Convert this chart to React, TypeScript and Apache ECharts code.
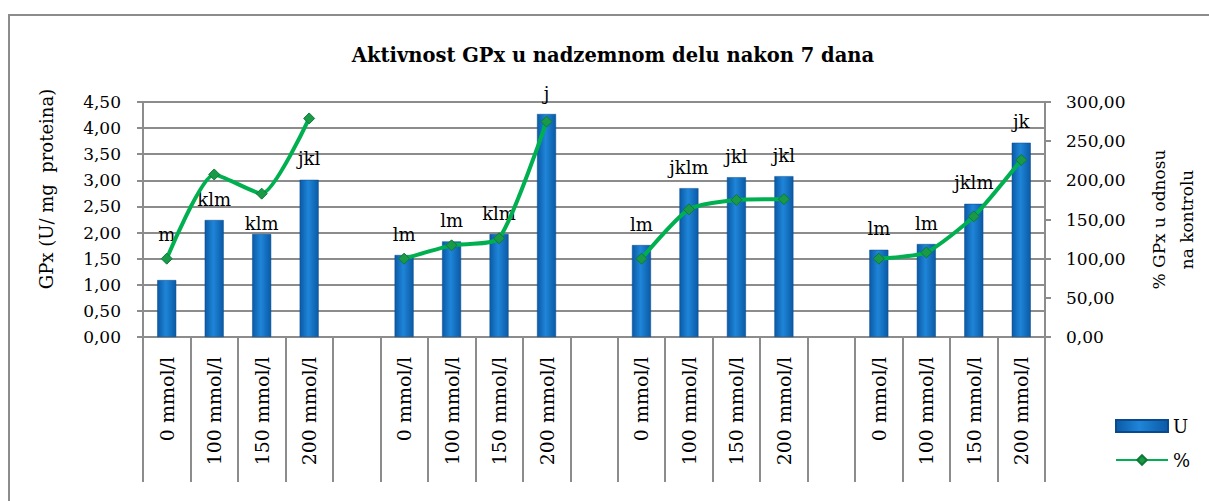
import React, { useEffect, useRef } from "react";
import * as echarts from "echarts";

const categories = [
  "0 mmol/l", "100 mmol/l", "150 mmol/l", "200 mmol/l", "",
  "0 mmol/l", "100 mmol/l", "150 mmol/l", "200 mmol/l", "",
  "0 mmol/l", "100 mmol/l", "150 mmol/l", "200 mmol/l", "",
  "0 mmol/l", "100 mmol/l", "150 mmol/l", "200 mmol/l",
];
const valuesU: (number | null)[] = [
  1.09, 2.24, 1.97, 3.01, null,
  1.57, 1.83, 1.97, 4.27, null,
  1.76, 2.85, 3.06, 3.08, null,
  1.67, 1.78, 2.55, 3.72,
];
const valuesPct: (number | null)[] = [
  100, 207.5, 183, 279, null,
  100, 117, 126, 275, null,
  100, 163, 175, 176, null,
  100, 108, 154, 226,
];
const letters = [
  "m", "klm", "klm", "jkl", "",
  "lm", "lm", "klm", "j", "",
  "lm", "jklm", "jkl", "jkl", "",
  "lm", "lm", "jklm", "jk",
];
const leftTicks = { min: 0, max: 4.5, interval: 0.5 };
const rightTicks = { min: 0, max: 300, interval: 50 };

const FONT = "DejaVu Serif";
const fmt = (v: number) => v.toFixed(2).replace(".", ",");

export default function App() {
  const ref = useRef<HTMLDivElement>(null);
  useEffect(() => {
    document.body.style.margin = "0";
    const chart = echarts.init(ref.current!, null, { renderer: "svg" });
    const labelOffsets: Record<number, number> = { 0: -25, 2: 10 };
    const barGrad = new echarts.graphic.LinearGradient(0, 0, 1, 0, [
      { offset: 0, color: "#0a5aa6" },
      { offset: 0.45, color: "#1f85d8" },
      { offset: 1, color: "#0a5aa6" },
    ]);
    chart.setOption({
      animation: false,
      textStyle: { fontFamily: FONT },
      title: {
        text: "Aktivnost GPx u nadzemnom delu nakon 7 dana",
        left: 608,
        textAlign: "center",
        top: 40,
        textStyle: { fontFamily: FONT, fontWeight: "bold", fontSize: 19.5, color: "#000" },
      },
      graphic: [
        {
          type: "rect",
          shape: { x: 9, y: 15, width: 1400, height: 700 },
          style: { fill: "none", stroke: "#8c8c8c", lineWidth: 2 },
          silent: true,
        },
        {
          type: "text",
          x: 46,
          y: 189,
          rotation: Math.PI / 2,
          style: {
            text: "GPx (U/ mg  proteina)",
            fontFamily: FONT,
            fontSize: 18,
            fill: "#000",
            align: "center",
            verticalAlign: "middle",
          },
          silent: true,
        },
      ],
      legend: {
        orient: "vertical",
        left: 1110,
        top: 412,
        itemWidth: 52,
        itemHeight: 12,
        itemGap: 16,
        textStyle: { fontFamily: FONT, fontSize: 18, color: "#000" },
        data: [
          { name: "U", icon: "rect" },
          { name: "%" },
        ],
      },
      grid: { left: 143, right: 157, top: 102, bottom: 164 },
      xAxis: {
        type: "category",
        data: categories,
        boundaryGap: true,
        axisLine: { lineStyle: { color: "#8c8c8c", width: 2 } },
        axisTick: { show: true, length: 145, interval: 0, lineStyle: { color: "#8c8c8c", width: 2 } },
        axisLabel: {
          interval: 0,
          rotate: 90,
          margin: 20,
          fontFamily: FONT,
          fontSize: 19,
          color: "#000",
        },
      },
      yAxis: [
        {
          type: "value",
          ...leftTicks,
          axisLine: { show: true, lineStyle: { color: "#8c8c8c", width: 2 } },
          axisTick: { show: true, length: 6, lineStyle: { color: "#8c8c8c", width: 2 } },
          splitLine: { lineStyle: { color: "#8c8c8c", width: 2 } },
          axisLabel: { formatter: fmt, fontFamily: FONT, fontSize: 17, color: "#000", margin: 22 },
        },
        {
          type: "value",
          ...rightTicks,
          position: "right",
          name: "% GPx u odnosu\nna kontrolu",
          nameLocation: "middle",
          nameRotate: 90,
          nameGap: 100,
          nameTextStyle: { fontFamily: FONT, fontSize: 17, color: "#000", lineHeight: 28, align: "center" },
          axisLine: { show: true, lineStyle: { color: "#8c8c8c", width: 2 } },
          axisTick: { show: true, length: 6, lineStyle: { color: "#8c8c8c", width: 2 } },
          splitLine: { show: false },
          axisLabel: { formatter: fmt, fontFamily: FONT, fontSize: 17, color: "#000", margin: 21 },
        },
      ],
      series: [
        {
          name: "U",
          type: "bar",
          yAxisIndex: 0,
          barWidth: 19,
          itemStyle: { color: barGrad, borderColor: "#0a4a8c", borderWidth: 0.5 },
          data: valuesU.map((v, i) => ({
            value: v,
            label: {
              show: v != null,
              position: "top",
              distance: 12,
              offset: [0, labelOffsets[i] || 0],
              formatter: () => letters[i],
              fontFamily: FONT,
              fontSize: 18,
              color: "#000",
            },
          })),
        },
        {
          name: "%",
          type: "line",
          yAxisIndex: 1,
          smooth: 0.2,
          connectNulls: false,
          symbol: "diamond",
          symbolSize: 11,
          lineStyle: { color: "#00b050", width: 4 },
          itemStyle: { color: "#1a9a48", borderColor: "#0d7a35", borderWidth: 1 },
          data: valuesPct,
        },
      ],
    });
    return () => chart.dispose();
  }, []);
  return <div ref={ref} style={{ width: 1209, height: 501 }} />;
}
